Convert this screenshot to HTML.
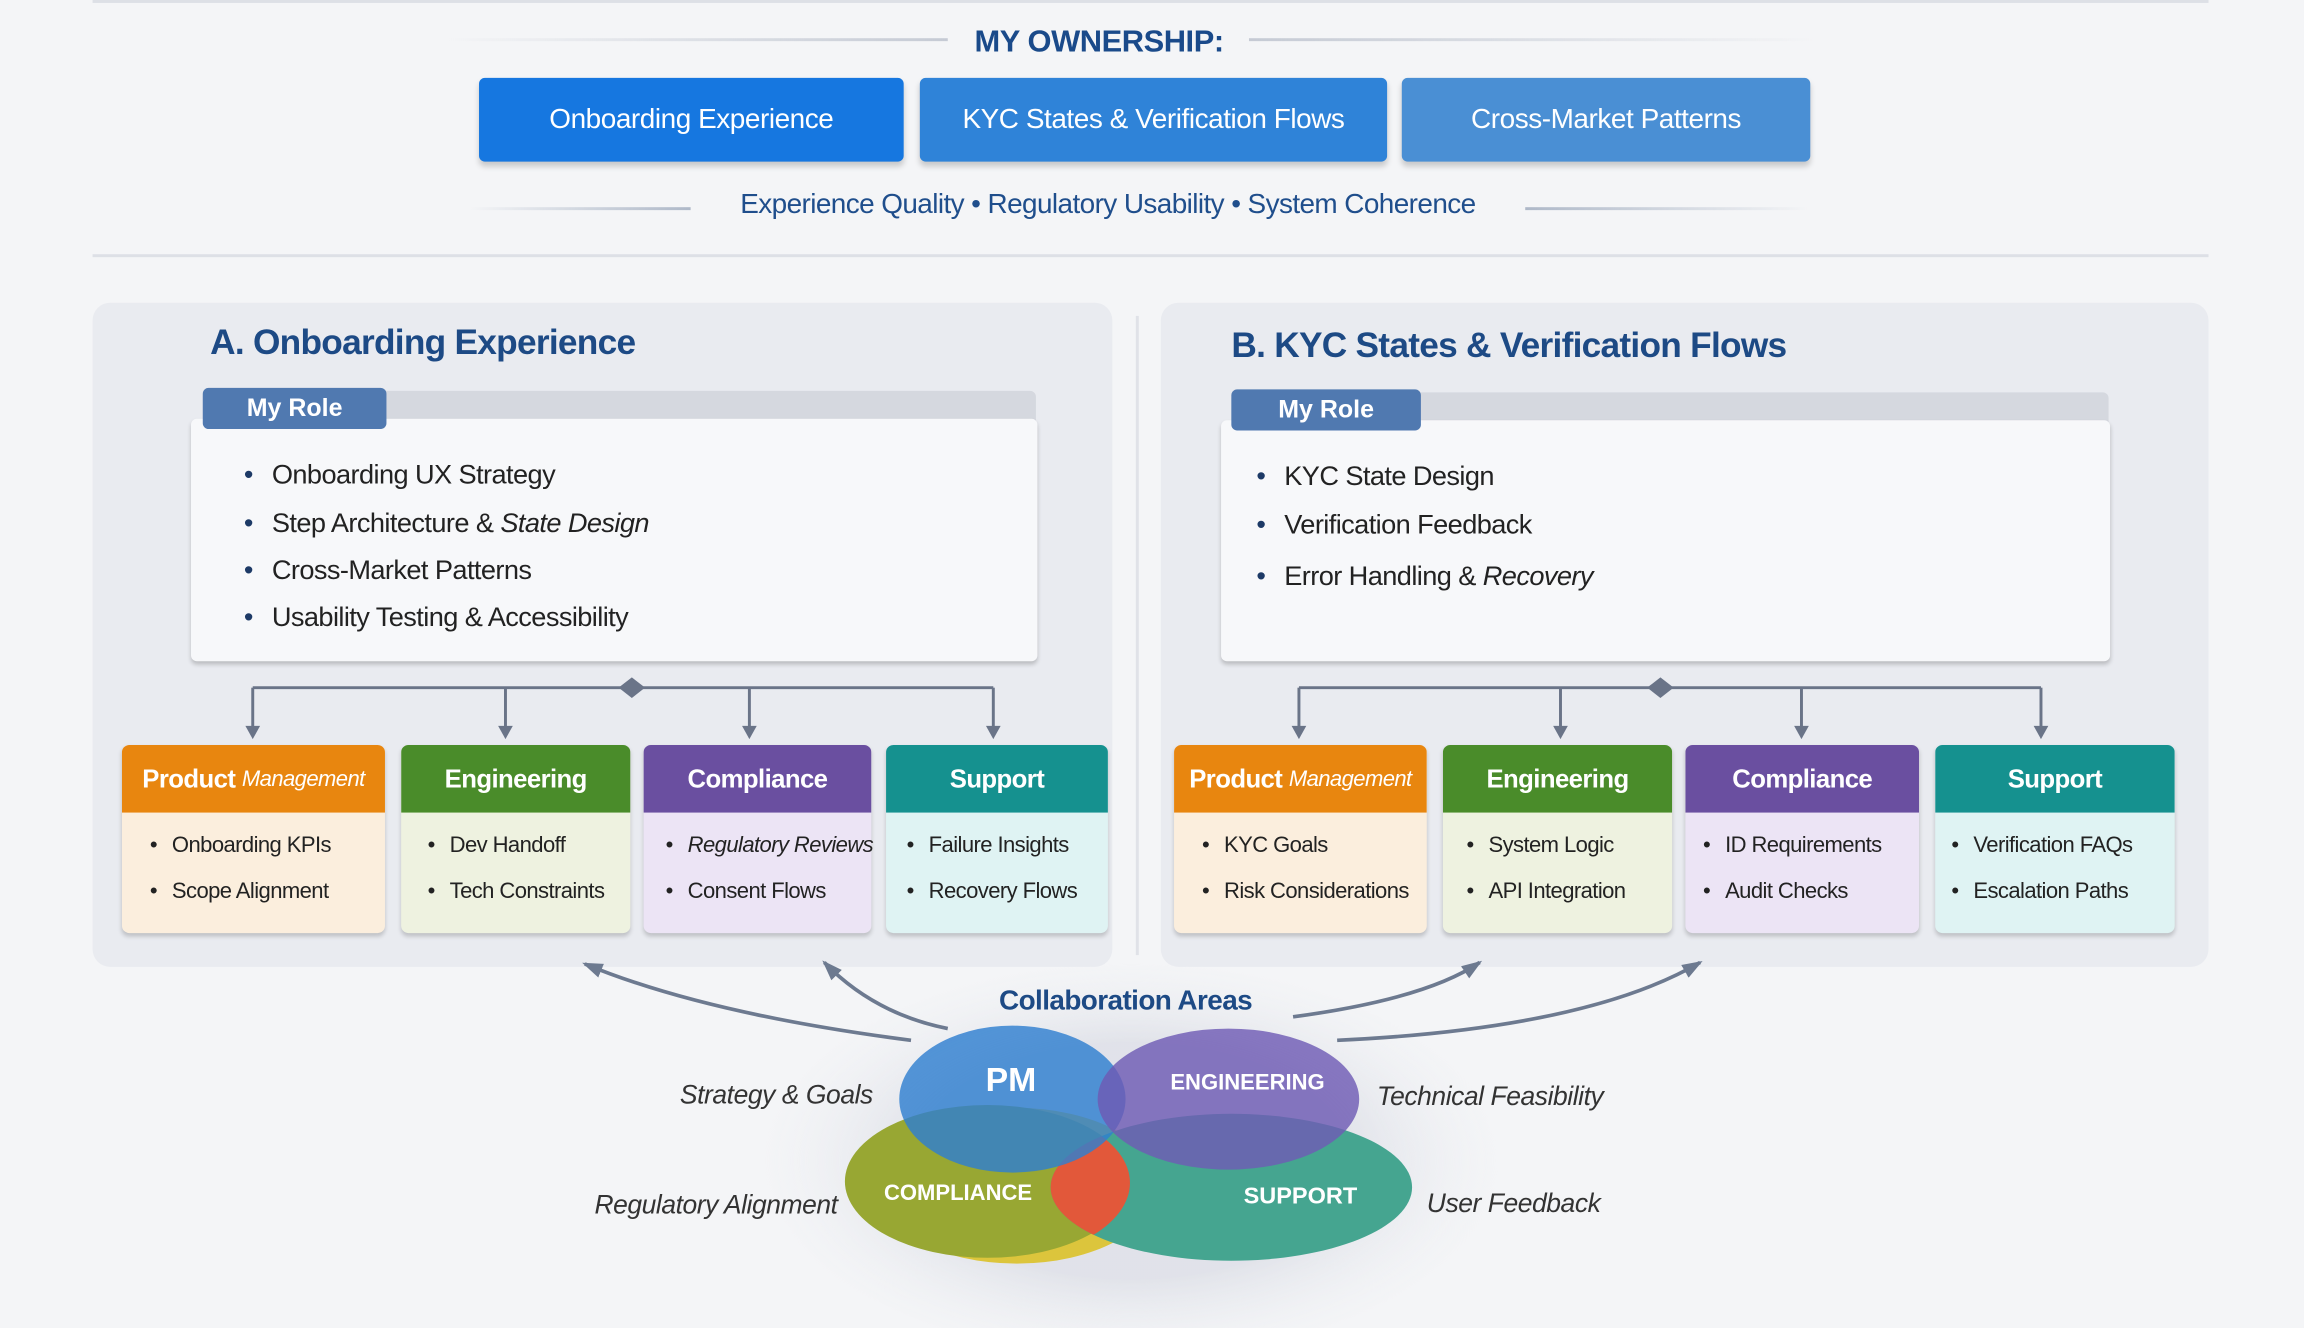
<!DOCTYPE html>
<html><head><meta charset="utf-8"><style>
html,body{margin:0;padding:0;width:2304px;height:1328px;overflow:hidden;background:#f4f5f7;}
#s{position:absolute;left:0;top:0;width:1568px;height:904px;transform:scale(1.46939);transform-origin:0 0;font-family:"Liberation Sans",sans-serif;}
.a{position:absolute;}
.btn{position:absolute;top:53px;height:57px;border-radius:4px;color:#fff;font-size:19px;display:flex;align-items:center;justify-content:center;box-shadow:0 3px 4px rgba(0,0,0,.18);letter-spacing:-0.3px}
.panel{position:absolute;top:206px;height:452px;background:#e9ebf0;border-radius:12px;}
.title{position:absolute;font-weight:bold;color:#1d4a85;font-size:24px;letter-spacing:-0.5px}
.bar{position:absolute;height:22px;background:#d5d8df;border-radius:4px 4px 0 0}
.tab{position:absolute;height:28px;background:#5079b0;color:#fff;font-weight:bold;font-size:17px;border-radius:4px;display:flex;align-items:center;justify-content:center}
.box{position:absolute;background:#f7f8fa;border-radius:4px;box-shadow:0 2px 3px rgba(0,0,0,.2)}
.li{position:absolute;font-size:18.5px;color:#222;letter-spacing:-0.4px}
.li:before{content:"•";position:absolute;left:-19px;color:#1d3a66}
.card{position:absolute;top:507px;height:128px;border-radius:5px;overflow:hidden;box-shadow:0 2px 3px rgba(0,0,0,.18)}
.ch{height:46px;color:#fff;font-weight:bold;font-size:17.5px;display:flex;align-items:center;justify-content:center;white-space:nowrap;letter-spacing:-0.4px}
.ci{position:absolute;font-size:15px;color:#222;white-space:nowrap;letter-spacing:-0.4px}
.ci:before{content:"•";position:absolute;left:-15px}
.lab{position:absolute;font-style:italic;font-size:18px;color:#333;white-space:nowrap;letter-spacing:-0.3px}
.vt{position:absolute;color:#fff;font-weight:bold;white-space:nowrap;transform:translate(-50%,-50%)}
</style></head><body><div id="s">
<div class="a" style="left:63px;top:0;width:1440px;height:2px;background:#dde0e6"></div>
<div class="a" style="left:305px;top:26px;width:340px;height:2px;background:linear-gradient(90deg,transparent,#c5cad4)"></div>
<div class="a" style="left:850px;top:26px;width:385px;height:2px;background:linear-gradient(90deg,#c5cad4,transparent)"></div>
<div class="a" style="left:648px;top:17px;width:200px;text-align:center;font-weight:bold;font-size:21px;color:#1a4a8a;letter-spacing:-0.3px">MY OWNERSHIP:</div>
<div class="btn" style="left:326px;width:289px;background:#1677e0">Onboarding Experience</div>
<div class="btn" style="left:626px;width:318px;background:#2f83d8">KYC States &amp; Verification Flows</div>
<div class="btn" style="left:954px;width:278px;background:#4a8fd4">Cross-Market Patterns</div>
<div class="a" style="left:320px;top:141px;width:150px;height:2px;background:linear-gradient(90deg,transparent,#aeb8c8)"></div>
<div class="a" style="left:1038px;top:141px;width:192px;height:2px;background:linear-gradient(90deg,#aeb8c8,transparent)"></div>
<div class="a" style="left:470px;top:129px;width:568px;text-align:center;font-size:19px;color:#1f4e8c;letter-spacing:-0.4px">Experience Quality • Regulatory Usability • System Coherence</div>
<div class="a" style="left:63px;top:173px;width:1440px;height:2px;background:#dde0e6"></div>

<div class="panel" style="left:63px;width:694px"></div>
<div class="panel" style="left:790px;width:713px"></div>
<div class="a" style="left:773px;top:215px;width:2px;height:435px;background:#e0e2e8"></div>

<div class="title" style="left:143px;top:220px">A. Onboarding Experience</div>
<div class="bar" style="left:138px;top:266px;width:567px"></div>
<div class="box" style="left:130px;top:285px;width:576px;height:165px"></div>
<div class="tab" style="left:138px;top:264px;width:125px">My Role</div>
<div class="li" style="left:185px;top:312px">Onboarding UX Strategy</div>
<div class="li" style="left:185px;top:345px">Step Architecture &amp; <i>State Design</i></div>
<div class="li" style="left:185px;top:377px">Cross-Market Patterns</div>
<div class="li" style="left:185px;top:409px">Usability Testing &amp; Accessibility</div>

<div class="title" style="left:838px;top:222px">B. KYC States &amp; Verification Flows</div>
<div class="bar" style="left:838px;top:267px;width:597px"></div>
<div class="box" style="left:831px;top:286px;width:605px;height:164px"></div>
<div class="tab" style="left:838px;top:265px;width:129px">My Role</div>
<div class="li" style="left:874px;top:313px">KYC State Design</div>
<div class="li" style="left:874px;top:346px">Verification Feedback</div>
<div class="li" style="left:874px;top:381px">Error Handling &amp; <i>Recovery</i></div>

<svg class="a" style="left:0;top:0" width="1568" height="904">
<defs>
<marker id="m2" markerWidth="14" markerHeight="14" refX="12" refY="7" orient="auto" markerUnits="userSpaceOnUse"><path d="M0,2 L14,7 L0,12 Z" fill="#6d7a90"/></marker>
<radialGradient id="halo" cx="0.5" cy="0.5" r="0.5"><stop offset="0.6" stop-color="#dfe1e8" stop-opacity="0.9"/><stop offset="1" stop-color="#eceef2" stop-opacity="0"/></radialGradient>
<clipPath id="cc"><ellipse cx="672" cy="805" rx="97" ry="53"/></clipPath>
</defs>
<g stroke="#6a7488" stroke-width="2" fill="none">
<path d="M172,468 H676"/><path d="M172,468 V500"/><path d="M344,468 V500"/><path d="M510,468 V500"/><path d="M676,468 V500"/>
<path d="M884,468 H1389"/><path d="M884,468 V500"/><path d="M1062,468 V500"/><path d="M1226,468 V500"/><path d="M1389,468 V500"/>
</g>
<g fill="#6a7488">
<path d="M167,494 h10 l-5,9z"/><path d="M339,494 h10 l-5,9z"/><path d="M505,494 h10 l-5,9z"/><path d="M671,494 h10 l-5,9z"/>
<path d="M879,494 h10 l-5,9z"/><path d="M1057,494 h10 l-5,9z"/><path d="M1221,494 h10 l-5,9z"/><path d="M1384,494 h10 l-5,9z"/>
<path d="M430,461 l9,7 -9,7 -9,-7z"/><path d="M1130,461 l9,7 -9,7 -9,-7z"/>
</g>
<ellipse cx="770" cy="790" rx="250" ry="135" fill="url(#halo)"/>
<g stroke="#6d7a90" stroke-width="2.5" fill="none">
<path d="M620,708 Q480,690 398,656" marker-end="url(#m2)"/>
<path d="M645,700 Q595,690 561,655" marker-end="url(#m2)"/>
<path d="M880,692 Q970,680 1007,655" marker-end="url(#m2)"/>
<path d="M910,708 Q1080,700 1157,655" marker-end="url(#m2)"/>
</g>
<ellipse cx="692" cy="807" rx="96" ry="53" fill="#dcc53c"/>
<ellipse cx="672" cy="804" rx="97" ry="52" fill="#98a733"/>
<ellipse cx="838" cy="808" rx="123" ry="50" fill="#45a590"/>
<ellipse cx="838" cy="808" rx="123" ry="50" fill="#e2583a" clip-path="url(#cc)"/>
<ellipse cx="689" cy="748" rx="77" ry="50" fill="#2f7fd0" opacity="0.82"/>
<ellipse cx="836" cy="748" rx="89" ry="48" fill="#6f5bb5" opacity="0.82"/>
</svg>

<div class="card" style="left:83px;width:179px;background:#fbeedd"><div class="ch" style="background:#e8860f">Product&nbsp;<i style="font-weight:normal;font-size:15px">Management</i></div></div>
<div class="card" style="left:273px;width:156px;background:#eef2e0"><div class="ch" style="background:#4a8c2a">Engineering</div></div>
<div class="card" style="left:438px;width:155px;background:#ece4f5"><div class="ch" style="background:#6a4fa0">Compliance</div></div>
<div class="card" style="left:603px;width:151px;background:#dff3f3"><div class="ch" style="background:#15918f">Support</div></div>
<div class="ci" style="left:117px;top:567px">Onboarding KPIs</div><div class="ci" style="left:117px;top:598px">Scope Alignment</div>
<div class="ci" style="left:306px;top:567px">Dev Handoff</div><div class="ci" style="left:306px;top:598px">Tech Constraints</div>
<div class="ci" style="left:468px;top:567px"><i>Regulatory Reviews</i></div><div class="ci" style="left:468px;top:598px">Consent Flows</div>
<div class="ci" style="left:632px;top:567px">Failure Insights</div><div class="ci" style="left:632px;top:598px">Recovery Flows</div>

<div class="card" style="left:799px;width:172px;background:#fbeedd"><div class="ch" style="background:#e8860f">Product&nbsp;<i style="font-weight:normal;font-size:15px">Management</i></div></div>
<div class="card" style="left:982px;width:156px;background:#eef2e0"><div class="ch" style="background:#4a8c2a">Engineering</div></div>
<div class="card" style="left:1147px;width:159px;background:#ece4f5"><div class="ch" style="background:#6a4fa0">Compliance</div></div>
<div class="card" style="left:1317px;width:163px;background:#dff3f3"><div class="ch" style="background:#15918f">Support</div></div>
<div class="ci" style="left:833px;top:567px">KYC Goals</div><div class="ci" style="left:833px;top:598px">Risk Considerations</div>
<div class="ci" style="left:1013px;top:567px">System Logic</div><div class="ci" style="left:1013px;top:598px">API Integration</div>
<div class="ci" style="left:1174px;top:567px">ID Requirements</div><div class="ci" style="left:1174px;top:598px">Audit Checks</div>
<div class="ci" style="left:1343px;top:567px">Verification FAQs</div><div class="ci" style="left:1343px;top:598px">Escalation Paths</div>

<div class="a" style="left:626px;top:671px;width:280px;text-align:center;font-weight:bold;font-size:19px;color:#1d4a85;letter-spacing:-0.4px">Collaboration Areas</div>
<div class="vt" style="left:688px;top:735px;font-size:23px">PM</div>
<div class="vt" style="left:849px;top:737px;font-size:15px">ENGINEERING</div>
<div class="vt" style="left:652px;top:812px;font-size:15px">COMPLIANCE</div>
<div class="vt" style="left:885px;top:815px;font-size:16px">SUPPORT</div>
<div class="lab" style="right:974px;top:735px">Strategy &amp; Goals</div>
<div class="lab" style="left:937px;top:736px">Technical Feasibility</div>
<div class="lab" style="right:998px;top:810px">Regulatory Alignment</div>
<div class="lab" style="left:971px;top:809px">User Feedback</div>
</div></body></html>
